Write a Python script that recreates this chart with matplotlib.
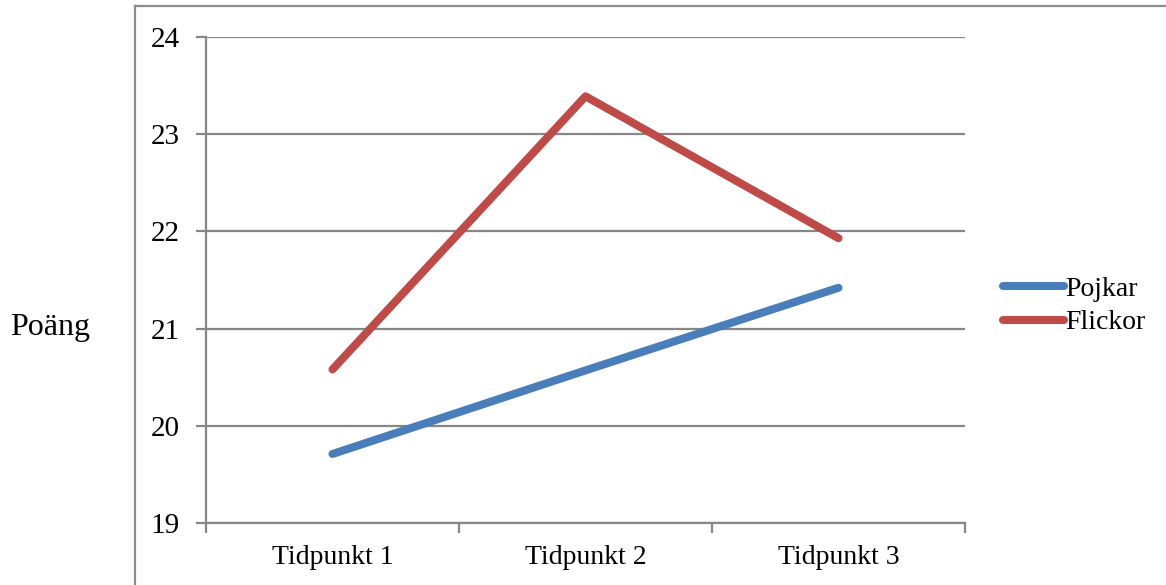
import matplotlib
matplotlib.use("Agg")
import matplotlib.pyplot as plt
from matplotlib.lines import Line2D

categories = ["Tidpunkt 1", "Tidpunkt 2", "Tidpunkt 3"]
pojkar = [19.71, 20.57, 21.42]
flickor = [20.58, 23.39, 21.93]
y_ticks = [19, 20, 21, 22, 23, 24]

plt.rcParams['font.family'] = ['Liberation Serif', 'DejaVu Serif']

fig = plt.figure(figsize=(11.66, 5.85), dpi=100)
ax = fig.add_axes([206/1166, 1 - 523/585, (965 - 206)/1166, (523 - 37)/585])

grey = "#878787"
x = list(range(len(categories)))
ax.plot(x, pojkar, color="#4A7EBB", lw=5.8, solid_capstyle="round",
        solid_joinstyle="round", label="Pojkar")
ax.plot(x, flickor, color="#BE4B48", lw=5.8, solid_capstyle="round",
        solid_joinstyle="round", label="Flickor")

ax.set_xlim(-0.5, 2.5)
ax.set_ylim(19, 24)
ax.set_yticks(y_ticks)
ax.set_yticklabels([str(v) for v in y_ticks], fontsize=21)
ax.set_xticks(x)
ax.set_xticklabels(categories, fontsize=20)
ax.set_xticks([-0.5, 0.5, 1.5, 2.5], minor=True)
ax.tick_params(axis="x", which="major", length=0, pad=16)
ax.tick_params(axis="x", which="minor", length=7, width=1.6, color=grey)
ax.tick_params(axis="y", length=7, width=1.6, color=grey, pad=12)

ax.yaxis.grid(True, color=grey, lw=1.6)
ax.set_axisbelow(True)
for side in ["top", "right"]:
    ax.spines[side].set_visible(False)
for side in ["left", "bottom"]:
    ax.spines[side].set_color(grey)
    ax.spines[side].set_linewidth(1.6)

leg = ax.legend(loc="center left", bbox_to_anchor=(1.035, 0.447), frameon=False,
                fontsize=20, handlelength=2.2, handletextpad=0.05, labelspacing=0.3,
                borderaxespad=0)

fig.text(50/1166, 1 - 328/585, "Poäng", fontsize=23, ha="center", va="center")

# outer chart frame
fig.add_artist(Line2D([135/1166, 135/1166], [0, 1 - 6/585], color="#8c8c8c", lw=1.6,
                      transform=fig.transFigure))
fig.add_artist(Line2D([135/1166, 1], [1 - 6/585, 1 - 6/585], color="#8c8c8c", lw=1.6,
                      transform=fig.transFigure))

fig.savefig("out.png", dpi=100)
